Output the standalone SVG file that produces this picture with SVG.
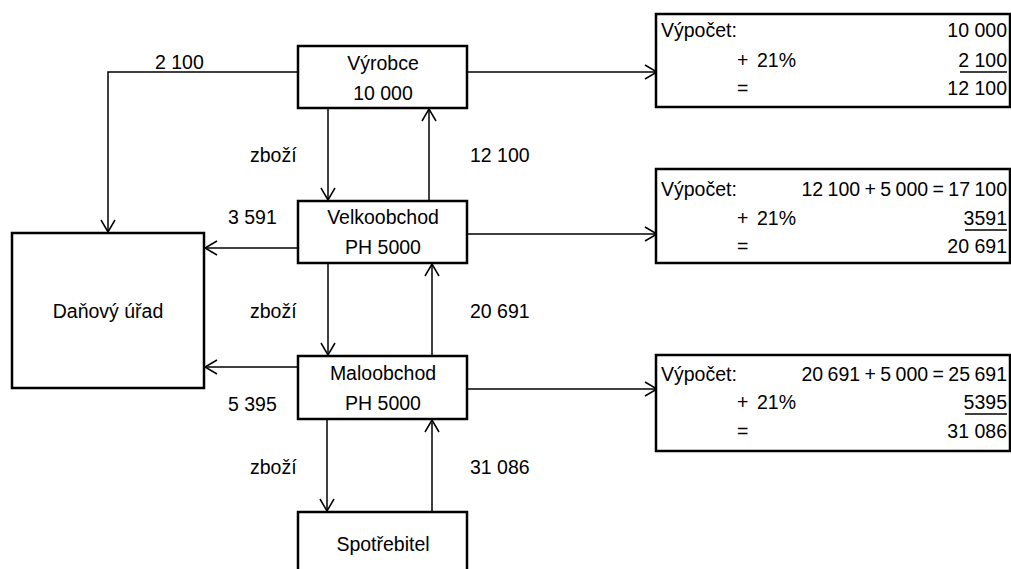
<svg xmlns="http://www.w3.org/2000/svg" width="1011" height="569" viewBox="0 0 1011 569">
<style>
.box{fill:#fff;stroke:#000;stroke-width:2.5}
.ln{fill:none;stroke:#000;stroke-width:1.5;marker-end:url(#arr)}
text{font-family:"Liberation Sans",Arial,sans-serif;font-size:19.5px;fill:#000}
.c{text-anchor:middle}
.r{text-anchor:end}
.f{word-spacing:-1px}
.ul{fill:none;stroke:#000;stroke-width:1.3}
</style>
<defs>
<marker id="arr" markerUnits="userSpaceOnUse" markerWidth="14" markerHeight="16" refX="12" refY="7" orient="auto" overflow="visible">
<path d="M0,0 L12,7 L0,14" fill="none" stroke="#000" stroke-width="1.5"/>
</marker>
</defs>
<rect width="1011" height="569" fill="#fff"/>
<g id="connectors">
<polyline class="ln" points="298,72 108,72 108,232"/>
<line class="ln" x1="467" y1="72" x2="657" y2="72"/>
<line class="ln" x1="328" y1="108" x2="328" y2="200"/>
<line class="ln" x1="429" y1="201" x2="429" y2="109"/>
<line class="ln" x1="298" y1="248" x2="205" y2="248"/>
<line class="ln" x1="467" y1="234" x2="657" y2="234"/>
<line class="ln" x1="328" y1="263" x2="328" y2="355"/>
<line class="ln" x1="432" y1="356" x2="432" y2="264"/>
<line class="ln" x1="298" y1="367" x2="205" y2="367"/>
<line class="ln" x1="467" y1="389" x2="657" y2="389"/>
<line class="ln" x1="327" y1="419" x2="327" y2="511"/>
<line class="ln" x1="432" y1="512" x2="432" y2="420"/>
<text x="155" y="69">2 100</text>
<text x="250" y="162">zboží</text>
<text x="470" y="162">12 100</text>
<text x="228" y="224">3 591</text>
<text x="250" y="318">zboží</text>
<text x="470" y="318">20 691</text>
<text x="228" y="411">5 395</text>
<text x="250" y="474">zboží</text>
<text x="470" y="474">31 086</text>
</g>
<g id="vyrobce">
<rect class="box" x="298" y="46" width="169" height="62"/>
<text class="c" x="383" y="70">Výrobce</text>
<text class="c" x="383" y="100">10 000</text>
</g>
<g id="velkoobchod">
<rect class="box" x="298" y="201" width="169" height="62"/>
<text class="c" x="383" y="224">Velkoobchod</text>
<text class="c" x="383" y="254">PH 5000</text>
</g>
<g id="maloobchod">
<rect class="box" x="298" y="356" width="169" height="63"/>
<text class="c" x="383" y="380">Maloobchod</text>
<text class="c" x="383" y="410">PH 5000</text>
</g>
<g id="spotrebitel">
<rect class="box" x="298" y="512" width="169" height="70"/>
<text class="c" x="383" y="551">Spotřebitel</text>
</g>
<g id="danovy-urad">
<rect class="box" x="12" y="233" width="192" height="155"/>
<text class="c" x="108" y="318">Daňový úřad</text>
</g>
<g id="vypocet1">
<rect class="box" x="656" y="14" width="354" height="93"/>
<text x="661" y="37">Výpočet:</text>
<text class="r" x="1007" y="37">10 000</text>
<text x="737" y="67">+</text>
<text x="757" y="67">21%</text>
<text class="r" x="1007" y="67">2 100</text>
<line class="ul" x1="960" y1="72" x2="1007" y2="72"/>
<text x="737" y="95">=</text>
<text class="r" x="1007" y="95">12 100</text>
</g>
<g id="vypocet2">
<rect class="box" x="656" y="169" width="354" height="94"/>
<text x="661" y="196">Výpočet:</text>
<text class="r f" x="1007" y="196">12 100 + 5 000 = 17 100</text>
<text x="737" y="225">+</text>
<text x="757" y="225">21%</text>
<text class="r" x="1007" y="225">3591</text>
<line class="ul" x1="965" y1="230" x2="1007" y2="230"/>
<text x="737" y="253">=</text>
<text class="r" x="1007" y="253">20 691</text>
</g>
<g id="vypocet3">
<rect class="box" x="656" y="355" width="354" height="96"/>
<text x="661" y="381">Výpočet:</text>
<text class="r f" x="1007" y="381">20 691 + 5 000 = 25 691</text>
<text x="737" y="409">+</text>
<text x="757" y="409">21%</text>
<text class="r" x="1007" y="409">5395</text>
<line class="ul" x1="965" y1="414" x2="1007" y2="414"/>
<text x="737" y="438">=</text>
<text class="r" x="1007" y="438">31 086</text>
</g>
</svg>
